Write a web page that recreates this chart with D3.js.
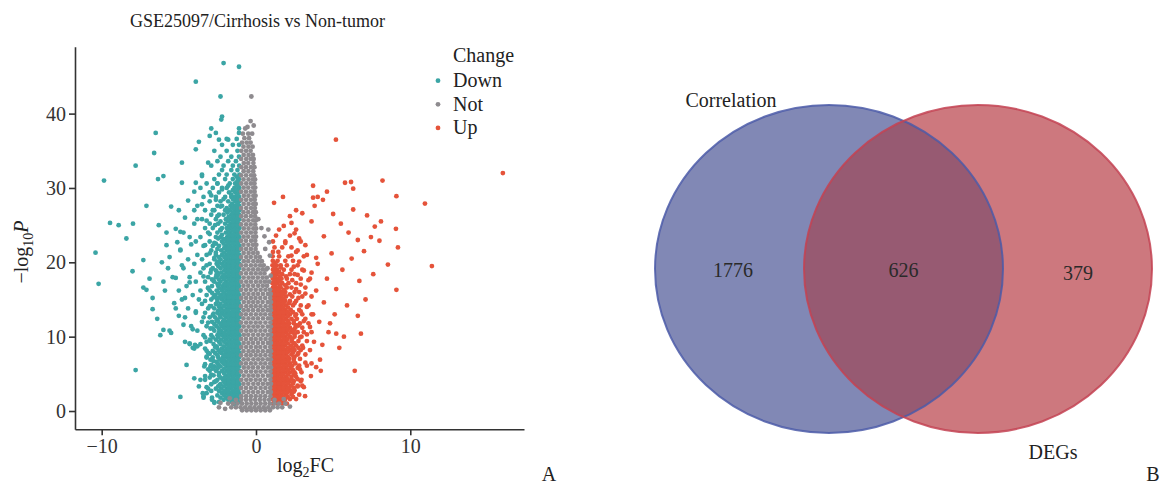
<!DOCTYPE html>
<html>
<head>
<meta charset="utf-8">
<script src="https://cdn.jsdelivr.net/npm/d3@7/dist/d3.min.js"></script>
<style>
  body { margin: 0; background: #fff; }
  svg { display: block; font-family: "Liberation Serif", "DejaVu Serif", serif; }
</style>
</head>
<body>
<div id="chart"></div>
<script>
// ---- volcano data (log2FC, -log10P) ----
// dense parts are given as rows: [y, [x, x, ...]]
const downRows = [
 [1.2,[-1.1,-1.4,-1.55,-2.4,-2.7]],
 [1.8,[-1.08,-1.35,-1.65,-1.95,-2.3,-2.85,-3.4]],
 [2.4,[-1.1,-1.38,-1.62,-1.9,-2.2,-3.2,-3.45]],
 [3.0,[-1.07,-1.32,-1.6,-1.88,-2.25,-2.6,-3.1]],
 [3.6,[-1.09,-1.36,-1.63,-1.92,-2.3,-2.9]],
 [4.2,[-1.08,-1.34,-1.6,-1.9,-2.15,-2.5,-3.3,-3.6]],
 [4.8,[-1.1,-1.37,-1.65,-1.95,-2.4,-2.75]],
 [5.4,[-1.07,-1.33,-1.6,-1.88,-2.2,-2.6,-3.0]],
 [6.0,[-1.09,-1.35,-1.62,-1.9,-2.3,-2.7,-3.35,-2.95]],
 [6.6,[-1.08,-1.36,-1.64,-1.93,-2.2,-2.55]],
 [7.2,[-1.1,-1.34,-1.6,-1.87,-2.15,-2.45,-3.2,-2.8]],
 [7.8,[-1.07,-1.35,-1.63,-1.92,-2.25,-2.65,-3.1]],
 [8.4,[-1.09,-1.36,-1.62,-1.9,-2.2,-2.5,-3.3,-4.0]],
 [9.0,[-1.08,-1.33,-1.6,-1.88,-2.3,-2.75,-3.6,-4.3]],
 [9.6,[-1.1,-1.37,-1.65,-1.95,-2.25,-2.6,-3.0]],
 [10.2,[-1.07,-1.34,-1.61,-1.9,-2.2,-2.5,-2.9,-3.4]],
 [10.8,[-1.09,-1.35,-1.63,-1.92,-2.28,-2.7,-3.8,-5.6]],
 [11.4,[-1.08,-1.36,-1.62,-1.9,-2.2,-2.55,-3.2,-4.2]],
 [12.0,[-1.1,-1.33,-1.6,-1.87,-2.15,-2.45,-2.85,-3.5]],
 [12.6,[-1.07,-1.35,-1.64,-1.93,-2.3,-2.65,-3.0,-4.6]],
 [13.2,[-1.09,-1.36,-1.62,-1.9,-2.2,-2.5,-3.3,-3.9]],
 [13.8,[-1.08,-1.34,-1.6,-1.88,-2.25,-2.7,-3.1,-4.4,-5.2]],
 [14.4,[-1.1,-1.37,-1.65,-1.95,-2.3,-2.6,-3.5]],
 [15.0,[-1.07,-1.33,-1.61,-1.9,-2.2,-2.5,-2.9,-3.7,-4.8]],
 [15.6,[-1.09,-1.35,-1.63,-1.92,-2.25,-2.65,-3.2,-4.1]],
 [16.2,[-1.08,-1.36,-1.62,-1.9,-2.2,-2.55,-3.0,-3.6,-5.0]],
 [16.8,[-1.1,-1.34,-1.6,-1.88,-2.15,-2.45,-2.85,-4.5]],
 [17.4,[-1.07,-1.35,-1.64,-1.93,-2.3,-2.7,-3.3,-3.9]],
 [18.0,[-1.09,-1.37,-1.62,-1.9,-2.2,-2.6,-3.1,-4.3,-5.4]],
 [18.6,[-1.08,-1.33,-1.6,-1.87,-2.25,-2.5,-2.95,-3.6]],
 [19.2,[-1.1,-1.36,-1.65,-1.95,-2.3,-2.8,-3.4,-4.7]],
 [19.8,[-1.07,-1.34,-1.61,-1.9,-2.2,-2.55,-3.0,-4.0]],
 [20.4,[-1.09,-1.35,-1.63,-1.92,-2.3,-2.7,-3.5,-4.4]],
 [21.0,[-1.08,-1.36,-1.62,-1.9,-2.2,-2.6,-3.2,-3.8]],
 [21.6,[-1.1,-1.34,-1.6,-1.88,-2.25,-2.9,-4.9]],
 [22.2,[-1.07,-1.35,-1.64,-1.93,-2.4,-2.8,-3.4]],
 [22.8,[-1.09,-1.37,-1.62,-1.9,-2.2,-3.0,-3.9]],
 [23.4,[-1.08,-1.33,-1.6,-1.87,-2.3,-2.6,-3.6,-4.3]],
 [24.0,[-1.1,-1.36,-1.65,-1.95,-2.5,-3.1,-4.7]],
 [24.6,[-1.07,-1.34,-1.61,-1.9,-2.2,-2.8,-3.3]],
 [25.2,[-1.09,-1.35,-1.63,-2.0,-2.45,-3.0,-4.0]],
 [25.8,[-1.08,-1.36,-1.62,-1.95,-2.6,-3.5]],
 [26.4,[-1.1,-1.34,-1.6,-2.1,-2.4,-2.9]],
 [27.0,[-1.07,-1.35,-1.7,-2.0,-2.7,-3.3]],
 [27.6,[-1.09,-1.37,-1.65,-2.2,-2.5,-3.8]],
 [28.2,[-1.08,-1.33,-1.8,-2.3,-3.0]],
 [28.8,[-1.1,-1.36,-1.6,-2.0,-2.6,-3.4]],
 [29.4,[-1.07,-1.34,-1.75,-2.4,-3.0]],
 [30.0,[-1.09,-1.4,-1.9,-2.2,-2.8,-3.6]],
 [30.6,[-1.08,-1.35,-1.7,-2.5,-3.2]],
 [31.2,[-1.1,-1.5,-2.0,-2.7]],
 [31.8,[-1.07,-1.4,-1.9,-2.4,-3.5]],
 [32.4,[-1.2,-1.6,-2.2]],
 [33.0,[-1.09,-1.5,-2.1,-2.9]],
 [33.6,[-1.3,-1.8,-2.5]],
 [34.2,[-1.1,-1.6,-2.3]],
 [35.0,[-1.2,-1.9,-2.7]],
 [35.8,[-1.1,-1.5,-2.2]],
 [36.6,[-1.25,-1.9]],
 [37.4,[-1.1,-2.6]],
 // in-between rows of the dense band
 [1.5,[-1.22,-1.5,-1.8,-2.1]],
 [2.1,[-1.21,-1.49,-1.77,-2.06,-2.5]],
 [2.7,[-1.2,-1.48,-1.78,-2.05,-2.4,-2.9]],
 [3.3,[-1.22,-1.5,-1.76,-2.08,-2.45]],
 [3.9,[-1.21,-1.49,-1.77,-2.06,-2.7]],
 [4.5,[-1.2,-1.48,-1.78,-2.05,-2.3,-3.0]],
 [5.1,[-1.22,-1.5,-1.76,-2.08,-2.4]],
 [5.7,[-1.21,-1.49,-1.77,-2.06,-2.5,-2.8]],
 [6.3,[-1.2,-1.48,-1.78,-2.05,-2.45]],
 [6.9,[-1.22,-1.5,-1.76,-2.08,-2.35,-2.95]],
 [7.5,[-1.21,-1.49,-1.77,-2.06,-2.5]],
 [8.1,[-1.2,-1.48,-1.78,-2.05,-2.4,-2.8]],
 [8.7,[-1.22,-1.5,-1.76,-2.08,-2.55]],
 [9.3,[-1.21,-1.49,-1.77,-2.06,-2.4,-3.2]],
 [9.9,[-1.2,-1.48,-1.78,-2.05,-2.45,-2.8]],
 [10.5,[-1.22,-1.5,-1.76,-2.08,-2.35]],
 [11.1,[-1.21,-1.49,-1.77,-2.06,-2.4,-2.95]],
 [11.7,[-1.2,-1.48,-1.78,-2.05,-2.3,-2.7]],
 [12.3,[-1.22,-1.5,-1.76,-2.08,-2.5]],
 [12.9,[-1.21,-1.49,-1.77,-2.06,-2.35,-2.8]],
 [13.5,[-1.2,-1.48,-1.78,-2.05,-2.45]],
 [14.1,[-1.22,-1.5,-1.76,-2.08,-2.4,-2.9]],
 [14.7,[-1.21,-1.49,-1.77,-2.06,-2.5]],
 [15.3,[-1.2,-1.48,-1.78,-2.05,-2.35,-2.75]],
 [15.9,[-1.22,-1.5,-1.76,-2.08,-2.45]],
 [16.5,[-1.21,-1.49,-1.77,-2.06,-2.35,-3.1]],
 [17.1,[-1.2,-1.48,-1.78,-2.05,-2.5]],
 [17.7,[-1.22,-1.5,-1.76,-2.08,-2.4,-2.85]],
 [18.3,[-1.21,-1.49,-1.77,-2.06,-2.45]],
 [18.9,[-1.2,-1.48,-1.78,-2.05,-2.6]],
 [19.5,[-1.22,-1.5,-1.76,-2.08,-2.45]],
 [20.1,[-1.21,-1.49,-1.77,-2.06,-2.5]],
 [20.7,[-1.2,-1.48,-1.78,-2.05,-2.4]],
 [21.3,[-1.22,-1.5,-1.76,-2.08,-2.6]],
 [21.9,[-1.21,-1.49,-1.77,-2.06]],
 [22.5,[-1.2,-1.48,-1.78,-2.1,-2.6]],
 [23.1,[-1.22,-1.5,-1.76,-2.08]],
 [23.7,[-1.21,-1.49,-1.77,-2.2]],
 [24.3,[-1.2,-1.48,-1.78,-2.3]],
 [24.9,[-1.22,-1.5,-1.76]],
 [25.5,[-1.21,-1.49,-1.8,-2.3]],
 [26.1,[-1.2,-1.48,-1.78]],
 [26.7,[-1.22,-1.5,-1.85]],
 [27.3,[-1.21,-1.49,-1.9]],
 [27.9,[-1.2,-1.55]],
 [28.5,[-1.22,-1.5,-2.1]],
 [29.1,[-1.21,-1.6]],
 [29.7,[-1.2,-1.5]],
 [30.3,[-1.22,-1.8]],
 [30.9,[-1.21]],
 [31.5,[-1.25]]
];
const downExtra = [
 [-2.1,46.8],[-1.1,46.3],[-3.9,44.3],[-2.3,42.3],[-2.2,39.6],[-2.25,39.2],[-2.9,38.0],[-1.1,38.0],
 [-3.0,37.0],[-2.4,36.5],[-1.8,36.5],[-3.7,36.2],[-3.9,35.2],[-6.5,37.4],[-6.6,34.7],[-9.85,31.0],
 [-7.8,33.0],[-9.46,25.3],[-8.9,25.0],[-7.97,25.2],[-8.4,23.2],[-7.1,27.6],[-6.35,31.2],[-6.0,31.6],
 [-10.4,21.3],[-10.2,17.1],[-8.0,18.8],[-7.3,20.3],[-6.9,17.8],[-7.3,16.6],[-7.1,16.3],[-6.7,15.2],
 [-6.7,13.7],[-6.4,12.4],[-6.3,25.0],[-5.8,24.0],[-5.6,20.7],[-5.7,19.2],[-6.0,17.4],[-5.9,16.2],
 [-4.8,33.4],[-4.8,30.7],[-5.2,24.5],[-4.9,24.1],[-5.1,22.7],[-4.9,21.7],[-7.8,5.5],[-6.2,10.2],
 [-6.0,10.9],[-4.9,1.9],[-4.6,9.3],[-4.3,9.1],[-3.95,8.9],[-3.8,8.7],[-4.1,8.5],[-3.2,8.1],
 [-3.2,7.3],[-3.3,6.3],[-2.9,6.2],[-3.3,4.7],[-3.2,3.2],[-3.4,2.3],[-3.4,2.0],[-2.85,1.5],
 [-2.7,1.1],[-1.55,1.3],[-1.4,0.9],[-5.5,27.5],[-5.0,27.0],[-4.4,28.3],[-4.0,29.5],[-3.9,30.7],
 [-3.5,31.6],[-3.1,33.4],[-4.6,26.0],[-5.3,14.5],[-5.0,12.8],[-4.7,11.6],[-5.5,10.5],[-4.5,6.2],
 [-4.0,4.4],[-3.7,3.3],[-5.8,22.3],[-6.1,20.0],[-5.2,17.9],[-4.6,15.2],[-4.8,19.6],[-4.2,22.4],
 [-4.3,17.3],[-3.9,13.4],[-4.1,11.0],[-3.8,25.8],[-4.0,27.0],
 [-2.35,3.5],[-2.6,4.0],[-2.9,4.9],[-3.1,5.6],[-2.45,5.9],[-2.75,6.7],[-3.0,7.7],[-2.35,8.0],
 [-2.65,8.6],[-2.95,9.4],[-3.3,9.9],[-2.4,10.6],[-2.8,11.1],[-3.1,11.9],[-2.55,12.2],[-3.4,12.6],
 [-2.75,13.1],[-2.35,13.6],[-3.0,14.1],[-3.3,14.8],[-2.6,15.3],[-2.85,15.9],[-3.1,16.6],[-2.4,17.0],
 [-2.75,17.5],[-3.4,18.1],[-2.55,18.4],[-2.9,19.0],[-3.2,19.6],[-2.4,20.0],[-2.7,20.6],[-3.0,21.2],
 [-2.5,21.8],[-3.3,22.3],[-2.7,22.6],[-2.45,23.2],[-3.0,23.8],[-2.3,24.4],[-2.65,25.0],[-3.2,25.6],
 [-2.5,26.2],[-2.8,27.0],[-2.3,27.5],[-3.5,27.8],[-2.6,28.4],[-2.9,29.0],[-2.2,29.8],[-2.5,30.6]
];

const notRows = [
 [0.1,[-0.9,-0.6,-0.3,0,0.3,0.6,0.9]],
 [0.5,[-1.6,-1.3,-1.0,-0.7,-0.4,-0.1,0.2,0.5,0.8,1.1,1.4,1.7]],
 [1.0,[-1.8,-1.5,-1.2,-0.9,-0.6,-0.3,0,0.3,0.6,0.9,1.2,1.5,1.9]],
 [1.5,[-1.3,-0.95,-0.65,-0.35,-0.05,0.25,0.55,0.85,1.2]],
 [2.0,[-0.95,-0.64,-0.33,-0.02,0.29,0.6,0.93]],
 [2.55,[-0.8,-0.49,-0.18,0.13,0.44,0.76,0.96]],
 [3.1,[-0.96,-0.65,-0.33,-0.03,0.3,0.61,0.92]],
 [3.65,[-0.81,-0.5,-0.17,0.14,0.45,0.75,0.97]],
 [4.2,[-0.95,-0.63,-0.34,-0.02,0.28,0.6,0.93]],
 [4.75,[-0.8,-0.48,-0.18,0.12,0.44,0.77,0.96]],
 [5.3,[-0.96,-0.64,-0.32,-0.01,0.29,0.62,0.93]],
 [5.85,[-0.79,-0.49,-0.19,0.13,0.45,0.76,0.97]],
 [6.4,[-0.95,-0.65,-0.33,-0.03,0.3,0.6,0.92]],
 [6.95,[-0.8,-0.5,-0.17,0.14,0.43,0.75,0.96]],
 [7.5,[-0.96,-0.63,-0.34,-0.02,0.29,0.61,0.93]],
 [8.05,[-0.81,-0.48,-0.18,0.12,0.44,0.76,0.97]],
 [8.6,[-0.95,-0.64,-0.33,-0.01,0.28,0.6,0.92]],
 [9.15,[-0.8,-0.49,-0.19,0.13,0.45,0.77,0.96]],
 [9.7,[-0.96,-0.65,-0.32,-0.02,0.3,0.62,0.93]],
 [10.25,[-0.79,-0.5,-0.18,0.14,0.44,0.75,0.97]],
 [10.8,[-0.95,-0.63,-0.33,-0.03,0.29,0.6,0.92]],
 [11.35,[-0.8,-0.48,-0.17,0.12,0.43,0.76,0.96]],
 [11.9,[-0.96,-0.64,-0.34,-0.02,0.28,0.61,0.93]],
 [12.45,[-0.81,-0.49,-0.18,0.13,0.45,0.77,0.97]],
 [13.0,[-0.95,-0.65,-0.33,-0.01,0.3,0.6,0.92]],
 [13.55,[-0.8,-0.5,-0.19,0.14,0.44,0.75,0.96]],
 [14.1,[-0.96,-0.63,-0.32,-0.02,0.29,0.62,0.93]],
 [14.65,[-0.79,-0.48,-0.18,0.12,0.43,0.76,0.97]],
 [15.2,[-0.95,-0.64,-0.33,-0.03,0.28,0.6,0.92]],
 [15.75,[-0.8,-0.49,-0.17,0.13,0.45,0.77,0.95]],
 [16.3,[-0.96,-0.65,-0.34,-0.02,0.3,0.61,0.9]],
 [16.85,[-0.81,-0.5,-0.18,0.14,0.44,0.72]],
 [17.4,[-0.95,-0.63,-0.33,-0.01,0.29,0.58,0.85]],
 [17.95,[-0.8,-0.48,-0.19,0.12,0.43,0.7]],
 [18.5,[-0.96,-0.64,-0.32,-0.02,0.28,0.55]],
 [19.05,[-0.8,-0.49,-0.18,0.13,0.42,0.66]],
 [19.6,[-0.95,-0.65,-0.33,-0.03,0.27,0.5]],
 [20.15,[-0.79,-0.5,-0.17,0.12,0.38]],
 [20.7,[-0.96,-0.63,-0.34,-0.02,0.25]],
 [21.25,[-0.8,-0.48,-0.18,0.1]],
 [21.8,[-0.95,-0.64,-0.33,-0.03]],
 [22.35,[-0.81,-0.49,-0.19,0.02]],
 [22.9,[-0.96,-0.65,-0.32,-0.05]],
 [23.45,[-0.8,-0.5,-0.18,0.0]],
 [24.0,[-0.95,-0.63,-0.33,-0.04]],
 [24.55,[-0.79,-0.48,-0.17,0.01]],
 [25.1,[-0.96,-0.64,-0.34,-0.05]],
 [25.65,[-0.8,-0.49,-0.18,0.0]],
 [26.2,[-0.95,-0.65,-0.33,-0.06]],
 [26.75,[-0.81,-0.5,-0.19,-0.01]],
 [27.3,[-0.96,-0.63,-0.32,-0.07]],
 [27.85,[-0.8,-0.48,-0.18,-0.02]],
 [28.4,[-0.95,-0.64,-0.33,-0.08]],
 [28.95,[-0.79,-0.49,-0.17,-0.03]],
 [29.5,[-0.96,-0.65,-0.34,-0.09]],
 [30.05,[-0.8,-0.5,-0.18,-0.05]],
 [30.6,[-0.95,-0.63,-0.33,-0.1]],
 [31.15,[-0.81,-0.48,-0.19,-0.06]],
 [31.7,[-0.96,-0.64,-0.32,-0.12]],
 [32.25,[-0.8,-0.49,-0.18]],
 [32.8,[-0.95,-0.65,-0.33,-0.1]],
 [33.35,[-0.79,-0.5,-0.17]],
 [33.9,[-0.96,-0.63,-0.34,-0.15]],
 [34.45,[-0.8,-0.48,-0.2]],
 [35.0,[-0.95,-0.64,-0.35]],
 [35.55,[-0.81,-0.49,-0.22]],
 [36.1,[-0.9,-0.6,-0.35]],
 [36.7,[-0.75,-0.45]],
 [37.3,[-0.85,-0.5,-0.25]]
];
const notExtra = [
 [-0.3,42.3],[-0.15,38.4],[-0.55,38.2],[-0.7,38.0],[-0.35,39.0],[0.8,24.4],[0.85,22.7],
 [0.55,23.5],[0.35,24.6],[0.15,25.8],[0.6,21.8],[0.9,20.9],[0.75,19.2],[0.95,18.2],
 [-2.4,0.5],[-2.3,1.1],[2.2,0.6],[1.8,1.6],[-1.7,1.7],[-2.0,0.3]
];

const upRows = [
 [1.0,[1.1,1.4,1.7,2.0]],
 [1.6,[1.08,1.35,1.62,1.9,2.2,2.6]],
 [2.2,[1.1,1.37,1.65,1.95,2.3,2.8]],
 [2.8,[1.07,1.33,1.6,1.88,2.2,2.5]],
 [3.4,[1.09,1.36,1.63,1.92,2.25,2.7,3.0]],
 [4.0,[1.08,1.34,1.6,1.9,2.15,2.45,2.9]],
 [4.6,[1.1,1.37,1.65,1.95,2.3,2.6]],
 [5.2,[1.07,1.33,1.61,1.9,2.2,2.5,2.95]],
 [5.8,[1.09,1.35,1.63,1.92,2.25,2.7]],
 [6.4,[1.08,1.36,1.62,1.9,2.2,2.55,3.6]],
 [7.0,[1.1,1.34,1.6,1.88,2.15,2.45,2.85]],
 [7.6,[1.07,1.35,1.64,1.93,2.3,2.7,3.2]],
 [8.2,[1.09,1.37,1.62,1.9,2.2,2.5,2.9,3.5]],
 [8.8,[1.08,1.33,1.6,1.87,2.25,2.6,3.0]],
 [9.4,[1.1,1.36,1.65,1.95,2.3,2.75,3.3]],
 [10.0,[1.07,1.34,1.61,1.9,2.2,2.5,2.95]],
 [10.6,[1.09,1.35,1.63,1.92,2.28,2.7,3.1,3.6]],
 [11.2,[1.08,1.36,1.62,1.9,2.2,2.55,3.0]],
 [11.8,[1.1,1.33,1.6,1.87,2.15,2.45,2.85,3.4]],
 [12.4,[1.07,1.35,1.64,1.93,2.3,2.65,3.2]],
 [13.0,[1.09,1.36,1.62,1.9,2.2,2.6,3.0,3.7]],
 [13.6,[1.08,1.34,1.6,1.88,2.25,2.8]],
 [14.2,[1.1,1.37,1.65,1.95,2.4,2.9,3.4]],
 [14.8,[1.07,1.33,1.61,1.9,2.2,2.6]],
 [15.4,[1.09,1.35,1.63,1.95,2.35,3.0,3.6]],
 [16.0,[1.08,1.36,1.62,1.9,2.5,2.8]],
 [16.6,[1.1,1.34,1.6,2.0,2.3,3.2]],
 [17.2,[1.07,1.35,1.7,2.1,2.6]],
 [17.8,[1.09,1.37,1.65,2.0,2.9,3.5]],
 [18.4,[1.08,1.33,1.7,2.2,2.5]],
 [19.0,[1.1,1.36,1.8,2.3,3.0]],
 [19.6,[1.07,1.34,1.6,2.0,2.7]],
 [20.2,[1.09,1.4,1.9,2.4]],
 [20.8,[1.08,1.5,2.1,3.1]],
 [21.4,[1.1,1.45,2.6]],
 [22.0,[1.2,1.7,2.3]],
 [22.8,[1.1,1.9,2.9]],
 [23.6,[1.3,2.2]],
 [24.4,[1.5,2.6]],
 // in-between rows of the dense band
 [1.3,[1.22,1.5,1.8]],
 [1.9,[1.21,1.49,1.77,2.06,2.4]],
 [2.5,[1.2,1.48,1.78,2.05,2.35]],
 [3.1,[1.22,1.5,1.76,2.08,2.45]],
 [3.7,[1.21,1.49,1.77,2.06,2.4]],
 [4.3,[1.2,1.48,1.78,2.05,2.3,2.7]],
 [4.9,[1.22,1.5,1.76,2.08,2.45]],
 [5.5,[1.21,1.49,1.77,2.06,2.4]],
 [6.1,[1.2,1.48,1.78,2.05,2.35,2.8]],
 [6.7,[1.22,1.5,1.76,2.08,2.45]],
 [7.3,[1.21,1.49,1.77,2.06,2.5]],
 [7.9,[1.2,1.48,1.78,2.05,2.4]],
 [8.5,[1.22,1.5,1.76,2.08,2.4,2.75]],
 [9.1,[1.21,1.49,1.77,2.06,2.45]],
 [9.7,[1.2,1.48,1.78,2.05,2.35]],
 [10.3,[1.22,1.5,1.76,2.08,2.5]],
 [10.9,[1.21,1.49,1.77,2.06,2.4]],
 [11.5,[1.2,1.48,1.78,2.05,2.6]],
 [12.1,[1.22,1.5,1.76,2.08,2.45]],
 [12.7,[1.21,1.49,1.77,2.06]],
 [13.3,[1.2,1.48,1.78,2.05,2.4]],
 [13.9,[1.22,1.5,1.76,2.08]],
 [14.5,[1.21,1.49,1.77,2.15]],
 [15.1,[1.2,1.48,1.78]],
 [15.7,[1.22,1.5,1.76,2.2]],
 [16.3,[1.21,1.49,1.8]],
 [16.9,[1.2,1.55,1.9]],
 [17.5,[1.22,1.5]],
 [18.1,[1.21,1.55,1.95]],
 [18.7,[1.2,1.5]],
 [19.3,[1.22,1.6]],
 [19.9,[1.21]]
];
const upExtra = [
 [5.18,36.5],[16.0,32.0],[3.7,30.3],[5.77,30.7],[6.16,30.8],[6.3,29.9],[8.2,31.0],[9.1,28.9],
 [10.95,27.9],[9.07,24.5],[11.4,19.5],[9.1,16.3],[8.55,19.7],[7.7,24.8],[7.45,23.4],[8.0,22.9],
 [4.6,29.5],[1.75,28.8],[1.17,28.0],[3.7,28.7],[4.0,28.8],[4.34,28.4],[3.8,27.6],[6.8,10.4],
 [5.7,10.0],[5.4,8.5],[6.4,5.4],[4.3,8.9],[3.76,9.3],[4.15,6.9],[4.2,5.4],[3.56,4.7],
 [3.18,2.0],[3.1,3.2],[3.9,5.9],[3.3,6.1],[5.2,10.4],[4.7,10.6],[5.0,26.5],[5.5,25.2],
 [6.0,24.0],[6.6,23.0],[7.0,21.5],[6.2,20.5],[5.6,19.0],[4.9,21.2],[4.4,23.5],[3.6,25.5],
 [3.0,26.6],[2.6,27.0],[2.3,25.3],[4.0,19.8],[4.6,17.8],[5.2,16.4],[6.7,17.5],[7.6,18.4],
 [5.9,14.2],[5.1,13.0],[4.4,14.6],[3.9,16.2],[3.6,18.6],[3.3,21.0],[2.8,23.2],[4.1,12.0],
 [4.8,11.8],[3.5,11.3],[3.9,20.6],[6.3,27.1],[7.2,26.3],[8.1,25.5],[9.2,22.0],[2.2,26.2],
 [6.6,12.8],[7.1,15.0],
 [2.45,2.6],[2.7,3.3],[2.95,4.2],[2.55,5.0],[2.85,5.6],[3.2,6.5],[2.45,7.2],[2.75,7.8],
 [3.05,8.5],[2.5,9.1],[2.85,9.9],[3.3,10.3],[2.45,10.8],[2.75,11.5],[3.1,12.1],[2.55,12.8],
 [2.9,13.4],[3.3,14.0],[2.5,14.5],[2.75,15.2],[3.2,15.8],[2.6,16.4],[2.9,17.0],[2.35,17.6],
 [2.7,18.3],[3.1,18.9],[2.45,19.4],[2.8,20.1],[2.3,20.9],[2.7,21.6],[3.2,22.3],[1.9,22.6],
 [2.5,23.9],[1.8,24.9],[3.4,17.6],[3.6,13.0]
];

const changeLevels = ["Down", "Not", "Up"];
const changeColors = ["#3ba5a5", "#8e8b8f", "#e5533a"];
const xTicks = [-10, 0, 10];
const yTicks = [0, 10, 20, 30, 40];

// ---- venn data ----
const vennSets = ["Correlation", "DEGs"];
const vennCounts = [1776, 626, 379]; // only Correlation, both, only DEGs

function rowsToPoints(rows, extra, level) {
  let pts = [];
  rows.forEach(function(r){ r[1].forEach(function(x){ pts.push({x: x, y: r[0], c: level}); }); });
  extra.forEach(function(p){ pts.push({x: p[0], y: p[1], c: level}); });
  return pts;
}
const points = rowsToPoints(downRows, downExtra, "Down")
  .concat(rowsToPoints(upRows, upExtra, "Up"))
  .concat(rowsToPoints(notRows, notExtra, "Not"));

const W = 1164, H = 484;
const svg = d3.select("#chart").append("svg").attr("width", W).attr("height", H);
svg.append("rect").attr("width", W).attr("height", H).attr("fill", "#fff");

// ---------- panel A: volcano ----------
const plot = {left: 75, right: 524, top: 46.7, bottom: 429.3};
const x = d3.scaleLinear().domain([-11.73, 17.37]).range([plot.left, plot.right]);
const y = d3.scaleLinear().domain([-2.46, 49]).range([plot.bottom, plot.top]);
const color = d3.scaleOrdinal().domain(changeLevels).range(changeColors);
const minusFmt = function(d){ return d < 0 ? "\u2212" + Math.abs(d) : String(d); };

const volcano = svg.append("g").attr("class", "volcano");

volcano.append("g").selectAll("circle")
  .data(points)
  .enter().append("circle")
  .attr("cx", function(d){ return x(d.x); })
  .attr("cy", function(d){ return y(d.y); })
  .attr("r", 2.4)
  .attr("fill", function(d){ return color(d.c); });

const xAxis = volcano.append("g")
  .attr("transform", "translate(0," + plot.bottom + ")")
  .call(d3.axisBottom(x).tickValues(xTicks).tickSize(6).tickSizeOuter(0).tickPadding(4).tickFormat(minusFmt));
const yAxis = volcano.append("g")
  .attr("transform", "translate(" + plot.left + ",0)")
  .call(d3.axisLeft(y).tickValues(yTicks).tickSize(6).tickSizeOuter(0).tickPadding(3).tickFormat(minusFmt));

[xAxis, yAxis].forEach(function(g){
  g.selectAll(".domain").attr("stroke", "#333").attr("stroke-width", 1.6);
  g.selectAll(".tick line").attr("stroke", "#333").attr("stroke-width", 1.6);
  g.selectAll(".tick text").attr("fill", "#333").style("font-size", "20px")
    .style("font-family", "Liberation Serif, serif");
});

// title
volcano.append("text")
  .attr("x", 130).attr("y", 27)
  .style("font-size", "18px").attr("fill", "#222")
  .text("GSE25097/Cirrhosis vs Non-tumor");

// x label
const xl = volcano.append("text")
  .attr("x", 277).attr("y", 472)
  .style("font-size", "20px").attr("fill", "#222");
xl.append("tspan").text("log");
xl.append("tspan").attr("dy", 5).style("font-size", "14px").text("2");
xl.append("tspan").attr("dy", -5).text("FC");

// y label
const yl = volcano.append("text")
  .attr("transform", "translate(28,252) rotate(-90)")
  .attr("text-anchor", "middle")
  .style("font-size", "20px").attr("fill", "#222");
yl.append("tspan").text("\u2212log");
yl.append("tspan").attr("dy", 5).style("font-size", "14px").text("10");
yl.append("tspan").attr("dy", -5).style("font-style", "italic").text("P");

// legend
const legend = volcano.append("g").attr("transform", "translate(438,0)");
legend.append("text").attr("x", 15).attr("y", 62)
  .style("font-size", "20px").attr("fill", "#222").text("Change");
const li = legend.selectAll(".li").data(changeLevels).enter().append("g")
  .attr("transform", function(d, i){ return "translate(0," + (80.7 + i * 23.6) + ")"; });
li.append("circle").attr("r", 2.4).attr("fill", function(d){ return color(d); });
li.append("text").attr("x", 15).attr("y", 6.5)
  .style("font-size", "20px").attr("fill", "#222").text(function(d){ return d; });

svg.append("text").attr("x", 549).attr("y", 481).attr("text-anchor", "middle")
  .style("font-size", "20px").attr("fill", "#222").text("A");

// ---------- panel B: venn ----------
const venn = {cx: 903.5, cy: 269, sep: 149, rx: 174, ry: 164};
const vx = d3.scalePoint().domain(vennSets).range([venn.cx - venn.sep / 2, venn.cx + venn.sep / 2]);
const vennFill = ["#8188b5", "#cd787e"];
const vennStroke = ["#4b5aa8", "#c34252"];

const vg = svg.append("g").attr("class", "venn");
const defs = svg.append("defs");
defs.append("clipPath").attr("id", "clipA")
  .append("ellipse").attr("cx", vx(vennSets[0])).attr("cy", venn.cy).attr("rx", venn.rx).attr("ry", venn.ry);

vg.selectAll(".vfill").data(vennSets).enter().append("ellipse")
  .attr("cx", function(d){ return vx(d); }).attr("cy", venn.cy)
  .attr("rx", venn.rx).attr("ry", venn.ry)
  .attr("fill", function(d, i){ return vennFill[i]; });

vg.append("ellipse")
  .attr("clip-path", "url(#clipA)")
  .attr("cx", vx(vennSets[1])).attr("cy", venn.cy).attr("rx", venn.rx).attr("ry", venn.ry)
  .attr("fill", "#975a72");

vg.selectAll(".vstroke").data(vennSets).enter().append("ellipse")
  .attr("cx", function(d){ return vx(d); }).attr("cy", venn.cy)
  .attr("rx", venn.rx).attr("ry", venn.ry)
  .attr("fill", "none").attr("stroke-width", 2)
  .attr("stroke-opacity", 0.85)
  .attr("stroke", function(d, i){ return vennStroke[i]; });

const numX = [vx(vennSets[0]) - 96, venn.cx, vx(vennSets[1]) + 100];
const numY = [277, 277, 280];
vg.selectAll(".vnum").data(vennCounts).enter().append("text")
  .attr("x", function(d, i){ return numX[i]; })
  .attr("y", function(d, i){ return numY[i]; })
  .attr("text-anchor", "middle")
  .style("font-size", "20px").attr("fill", "#2a2a2a")
  .text(function(d){ return d; });

vg.append("text").attr("x", vx(vennSets[0]) - 98).attr("y", 107).attr("text-anchor", "middle")
  .style("font-size", "20px").attr("fill", "#222").text(vennSets[0]);
vg.append("text").attr("x", vx(vennSets[1]) + 75).attr("y", 459).attr("text-anchor", "middle")
  .style("font-size", "20px").attr("fill", "#222").text(vennSets[1]);

svg.append("text").attr("x", 1153).attr("y", 481).attr("text-anchor", "middle")
  .style("font-size", "20px").attr("fill", "#222").text("B");
</script>
</body>
</html>
